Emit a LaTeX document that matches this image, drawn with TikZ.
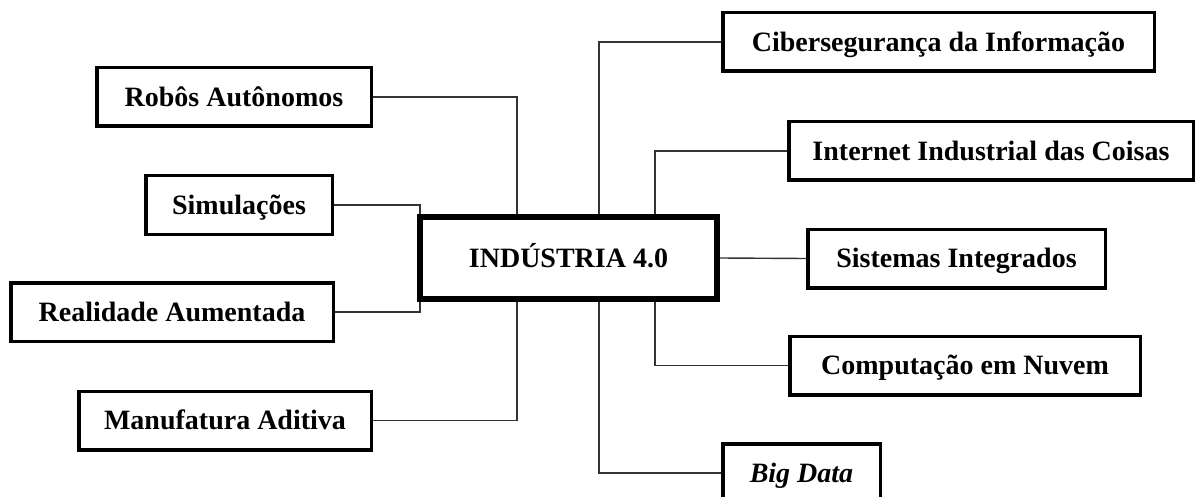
\documentclass[tikz,border=0pt]{standalone}
\usepackage{fontspec}
\setmainfont{Liberation Serif}
\begin{document}
\begin{tikzpicture}[x=1pt, y=-1pt, box node/.style={rectangle, draw, line width=3.5pt, minimum height=58.5pt, inner sep=0pt, text height=18.5pt, text depth=0pt}, link/.style={line width=1.4pt, black!80}]
            \tikzstyle{every node}=[font=\bfseries\fontsize{28}{33}\selectfont]
            \clip (0,0) rectangle (1198,497);
            \useasboundingbox (0,0) rectangle (1198,497);

              \node[box node, line width=6pt, minimum width=297pt, minimum height=82pt] (0) at (568.5,258) {INDÚSTRIA 4.0};
              % left side
              \node[box node, minimum width=274.5pt] (1) at (234,97) {Robôs Autônomos};
              \node[box node, minimum width=186.5pt] (2) at (239,205) {Simulações};
              \node[box node, minimum width=322.5pt] (3) at (172,312) {Realidade Aumentada};
              \node[box node, minimum width=292.5pt] (4) at (225,420.5) {Manufatura Aditiva};
              % right side
              \node[box node, minimum width=431.5pt] (5) at (938.5,42) {Cibersegurança da Informação};
              \node[box node, minimum width=404.5pt] (6) at (991,151) {Internet Industrial das Coisas};
              \node[box node, minimum width=297.5pt] (7) at (956.5,258.5) {Sistemas Integrados};
              \node[box node, minimum width=350.5pt] (8) at (965,365.5) {Computação em Nuvem};
              \node[box node, minimum width=157.5pt] (9) at (801.5,473) {\textit{Big Data}};

              \draw[link] (1.east) -| ([xshift=-51.5pt]0.north);
              \draw[link] (2.east) -| ([xshift=3pt]0.north west);
              \draw[link] (3.east) -| ([xshift=3pt]0.south west);
              \draw[link] (4.east) -| ([xshift=-51.5pt]0.south);
              \draw[link] (5.west) -| ([xshift=30.5pt]0.north);
              \draw[link] (6.west) -| ([xshift=86.5pt]0.north);
              \draw[link] (0.east) -- (7.west);
              \draw[link] (8.west) -| ([xshift=86.5pt]0.south);
              \draw[link] (9.west) -| ([xshift=30.5pt]0.south);

            \end{tikzpicture}
\end{document}
